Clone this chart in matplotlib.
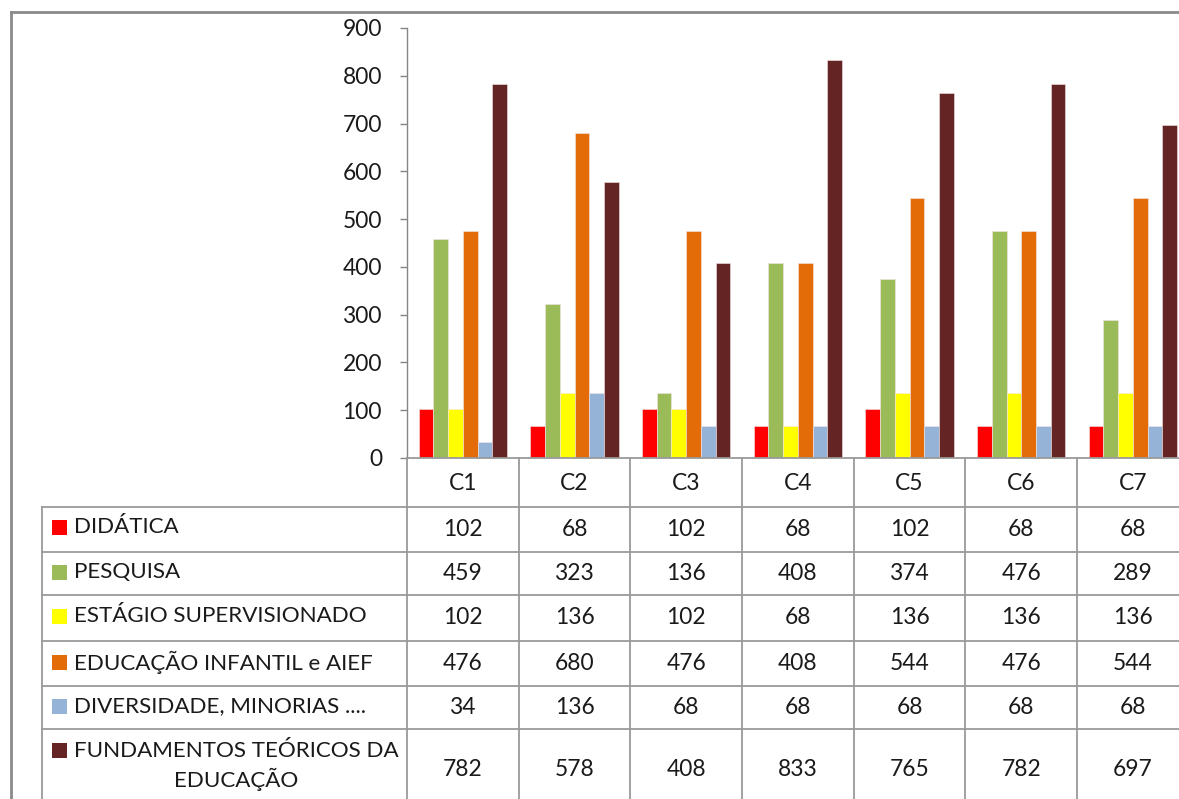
import matplotlib
matplotlib.use('Agg')
import matplotlib.pyplot as plt
from matplotlib.transforms import blended_transform_factory
import numpy as np

# ---------------- data ----------------
categories = ['C1', 'C2', 'C3', 'C4', 'C5', 'C6', 'C7']
series_names = ['DIDÁTICA', 'PESQUISA', 'ESTÁGIO SUPERVISIONADO',
                'EDUCAÇÃO INFANTIL e AIEF', 'DIVERSIDADE, MINORIAS ....',
                'FUNDAMENTOS TEÓRICOS DA\nEDUCAÇÃO']
didatica = [102, 68, 102, 68, 102, 68, 68]
pesquisa = [459, 323, 136, 408, 374, 476, 289]
estagio = [102, 136, 102, 68, 136, 136, 136]
educacao_infantil = [476, 680, 476, 408, 544, 476, 544]
diversidade = [34, 136, 68, 68, 68, 68, 68]
fundamentos = [782, 578, 408, 833, 765, 782, 697]
y_ticks = [0, 100, 200, 300, 400, 500, 600, 700, 800, 900]

series = [didatica, pesquisa, estagio, educacao_infantil, diversidade, fundamentos]
colors = ['#FF0000', '#9BBB59', '#FFFF00', '#E36C09', '#95B3D7', '#632423']

# ---------------- layout ----------------
W, H = 1179, 799
FONT = 'Lato'
FS = 16.1
fig = plt.figure(figsize=(W / 100, H / 100), dpi=100)
fig.patch.set_facecolor('white')

def fx(px):
    return px / W

def fy(py):
    return 1 - py / H

ax_left, ax_right, ax_top, ax_bottom = 407, 1188.7, 28, 458
ax = fig.add_axes([fx(ax_left), fy(ax_bottom), fx(ax_right) - fx(ax_left),
                   fy(ax_top) - fy(ax_bottom)])

n = len(series)
x = np.arange(len(categories))
bw = 0.1315
for k, (vals, c) in enumerate(zip(series, colors)):
    ax.bar(x + (k - (n - 1) / 2) * bw, vals, width=bw, color=c,
           edgecolor='#f3e6e6', linewidth=0.4, zorder=3)

ax.set_xlim(-0.5, len(categories) - 0.5)
ax.set_ylim(0, 900)
ax.set_yticks(y_ticks)
ax.set_xticks([])
for s in ['top', 'right', 'bottom']:
    ax.spines[s].set_visible(False)
ax.spines['left'].set_color('#868686')
ax.spines['left'].set_linewidth(1.0)
ax.tick_params(axis='y', direction='out', length=5, width=1.0, color='#868686',
               pad=13, labelsize=FS + 0.3, labelcolor='#1a1a1a')
for lab in ax.get_yticklabels():
    lab.set_fontfamily(FONT)
ax.patch.set_alpha(0)

# ---------------- overlay for table + border ----------------
ov = fig.add_axes([0, 0, 1, 1], zorder=5)
ov.set_xlim(0, W)
ov.set_ylim(H, 0)
ov.axis('off')
ov.patch.set_alpha(0)
bt = blended_transform_factory(ax.transData, ov.transData)

line_c = '#9a9a9a'
lw = 1.3

# outer chart border
ov.plot([11, W + 5], [12, 12], color='#8a8a8a', lw=2.0, clip_on=False)
ov.plot([11, 11], [12, H + 5], color='#8a8a8a', lw=2.0, clip_on=False)

# table horizontal lines
x_end = len(categories) - 0.5
ov.plot([-0.5, x_end + 0.1], [458, 458], color=line_c, lw=lw, transform=bt, clip_on=False)
row_lines = [507, 552, 595, 641, 686, 729]
table_left = 42
for yl in row_lines:
    ov.plot([table_left, W + 10], [yl, yl], color=line_c, lw=lw, clip_on=False)
ov.plot([table_left, table_left], [507, H + 5], color=line_c, lw=lw, clip_on=False)
for i in range(len(categories) + 1):
    ov.plot([i - 0.5, i - 0.5], [458, H + 5], color=line_c, lw=lw, transform=bt,
            clip_on=False)

# header
for i, c in enumerate(categories):
    ov.text(i, 483, c, transform=bt, ha='center', va='center', fontsize=FS + 0.3,
            family=FONT, color='#1a1a1a')

# rows
row_centers = [529, 574, 618, 663, 707, 769]
label_y = [527, 572, 616, 662, 706, 766]
marker_y = [527, 572, 616, 662, 706, 750]
for r, (name, vals, c) in enumerate(zip(series_names, series, colors)):
    ov.add_patch(plt.Rectangle((52, marker_y[r] - 7.5), 15, 15, facecolor=c,
                               edgecolor='none'))
    ov.text(74, label_y[r], name, ha='left', va='center', fontsize=FS, family=FONT,
            color='#1a1a1a', multialignment='center', linespacing=1.4)
    for i, v in enumerate(vals):
        ov.text(i, row_centers[r], str(v), transform=bt, ha='center', va='center',
                fontsize=FS + 0.3, family=FONT, color='#1a1a1a')

fig.savefig('out.png', dpi=100, facecolor='white')
